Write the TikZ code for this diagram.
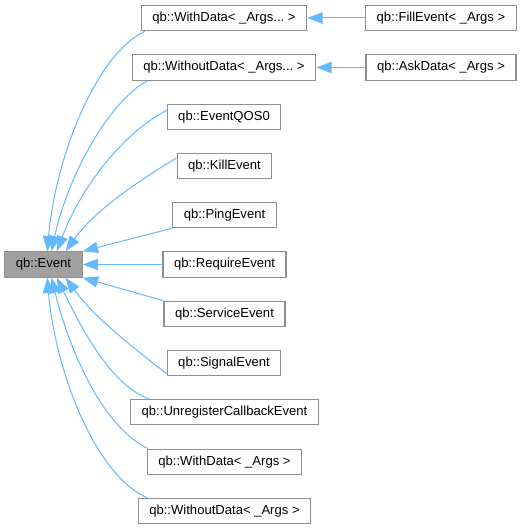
\documentclass[tikz,border=0pt]{standalone}
\usepackage{fontspec}
\setmainfont{Liberation Sans}
\usetikzlibrary{arrows.meta}
\definecolor{edgeblue}{HTML}{63B8FF}
\definecolor{boxgray}{HTML}{8F8F8F}
\begin{document}
\begin{tikzpicture}[x=0.75pt,y=0.75pt,yscale=-1,
  cls/.style={draw=boxgray, line width=0.9pt, fill=white, inner xsep=8.3pt, inner ysep=0pt,
    minimum height=19pt, font=\fontsize{9.8}{11}\selectfont\frenchspacing},
  base/.style={cls, fill=boxgray!85!white},
  inherit/.style={draw=edgeblue, line width=0.75pt,
    -{Triangle[length=11.5pt, width=8.5pt, fill=edgeblue]}}]

\useasboundingbox (0,0) rectangle (525,530);

%Shape: Base class
\node[base] (event) at (43.5,264.5) {qb::Event};

%Shape: Derived classes
\node[cls] (wdv) at (224,18) {qb::WithData< \_Args... >};
\node[cls] (wov) at (224,67.5) {qb::WithoutData< \_Args... >};
\node[cls] (qos) at (224,117) {qb::EventQOS0};
\node[cls] (kill) at (224.5,166) {qb::KillEvent};
\node[cls] (ping) at (224.5,215) {qb::PingEvent};
\node[cls] (require) at (224.5,264.5) {qb::RequireEvent};
\node[cls] (service) at (224.5,314) {qb::ServiceEvent};
\node[cls] (signal) at (224,363) {qb::SignalEvent};
\node[cls] (unreg) at (224.5,412) {qb::UnregisterCallbackEvent};
\node[cls] (wd) at (224.5,462) {qb::WithData< \_Args >};
\node[cls] (wo) at (224.5,511) {qb::WithoutData< \_Args >};

\node[cls] (fill) at (441,18) {qb::FillEvent< \_Args >};
\node[cls] (ask) at (441,67.5) {qb::AskData< \_Args >};

%Straight Lines
\draw[inherit] (fill) -- (wdv);
\draw[inherit] (ask) -- (wov);
\draw[inherit] (ping.south west) -- (event.north east);
\draw[inherit] (require) -- (event);
\draw[inherit] (service.north west) -- (event.south east);

%Curve Lines
\draw[inherit] ([xshift=3pt]wdv.south west) .. controls (95,55) and (55,160) .. (event.74);
\draw[inherit] ([xshift=12pt]wov.south west) .. controls (110,100) and (68,175) .. (event.59);
\draw[inherit] ([yshift=-5pt]qos.west) .. controls (120,135) and (80,190) .. (event.45);
\draw[inherit] ([yshift=-6pt]kill.west) .. controls (140,180) and (95,210) .. (event.31);
\draw[inherit] ([yshift=8pt]signal.west) .. controls (130,345) and (95,318) .. (event.-31);
\draw[inherit] ([xshift=14pt]unreg.north west) .. controls (110,385) and (80,325) .. (event.-45);
\draw[inherit] ([xshift=1pt]wd.north west) .. controls (100,425) and (68,345) .. (event.-59);
\draw[inherit] ([xshift=7pt]wo.north west) .. controls (95,475) and (55,370) .. (event.-74);

\end{tikzpicture}
\end{document}
